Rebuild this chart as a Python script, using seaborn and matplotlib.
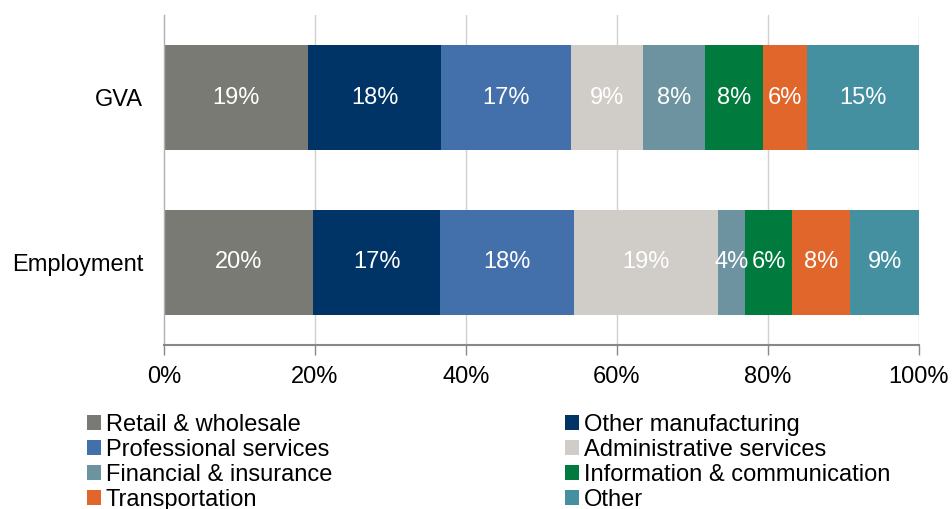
import matplotlib
matplotlib.use("Agg")
import matplotlib.pyplot as plt
import seaborn as sns
import pandas as pd
import numpy as np
from matplotlib.patches import Patch

categories = ["GVA", "Employment"]
sectors = ["Retail & wholesale", "Other manufacturing", "Professional services",
           "Administrative services", "Financial & insurance",
           "Information & communication", "Transportation", "Other"]
gva = [19.1, 17.6, 17.2, 9.5, 8.2, 7.7, 5.8, 14.9]
employment = [19.7, 16.9, 17.7, 19.1, 3.6, 6.2, 7.7, 9.1]
labels_gva = ["19%", "18%", "17%", "9%", "8%", "8%", "6%", "15%"]
labels_emp = ["20%", "17%", "18%", "19%", "4%", "6%", "8%", "9%"]
colors = ["#7a7a74", "#003366", "#436fab", "#d0cdc8", "#6d92a0",
          "#007a3d", "#e0662b", "#4490a0"]
xticks = [0, 20, 40, 60, 80, 100]
xticklabels = ["0%", "20%", "40%", "60%", "80%", "100%"]

FS = 17

sns.set_theme(style="white")
plt.rcParams["font.family"] = ["Liberation Sans", "DejaVu Sans"]
plt.rcParams["text.color"] = "black"

fig = plt.figure(figsize=(9.52, 5.09), dpi=100)
ax = fig.add_axes([164/952, 1 - 345/509, 755/952, 330/509])

vals = np.array([gva, employment])
cum = np.cumsum(vals, axis=1)
df_rows = []
for j, s in enumerate(sectors):
    for i, c in enumerate(categories):
        df_rows.append({"category": c, "sector": s, "end": cum[i, j], "value": vals[i, j]})
df = pd.DataFrame(df_rows)

ax.set_axisbelow(True)
for x in xticks[1:]:
    ax.axvline(x, color="#d0d0d0", lw=1, zorder=0)

# draw from right-most cumulative to left so each segment shows
for j in reversed(range(len(sectors))):
    sub = df[df["sector"] == sectors[j]]
    sns.barplot(data=sub, x="end", y="category", order=categories, color=colors[j],
                width=0.64, ax=ax, orient="h", saturation=1, edgecolor="none",
                linewidth=0, zorder=2)

all_labels = [labels_gva, labels_emp]
for i in range(len(categories)):
    for j in range(len(sectors)):
        center = cum[i, j] - vals[i, j] / 2
        ax.text(center, i, all_labels[i][j], ha="center", va="center",
                color="white", fontsize=FS, zorder=3)

ax.set_xlim(0, 100)
ax.set_ylim(1.5, -0.5)
ax.set_xticks(xticks)
ax.set_xticklabels(xticklabels, fontsize=FS, color="black")
ax.tick_params(axis="y", labelsize=FS, colors="black", length=0, pad=15)
ax.tick_params(axis="x", length=7, width=1, color="#888888", bottom=True, pad=8)
ax.set_xlabel("")
ax.set_ylabel("")
for sp in ["top", "right"]:
    ax.spines[sp].set_visible(False)
ax.spines["left"].set_color("#b0b0b0")
ax.spines["left"].set_linewidth(1)
ax.spines["bottom"].set_color("#888888")
ax.spines["bottom"].set_linewidth(1.5)

order = [0, 2, 4, 6, 1, 3, 5, 7]
handles = [Patch(facecolor=colors[k], edgecolor="none") for k in order]
labs = [sectors[k] for k in order]
fig.legend(handles, labs, ncol=2, loc="upper left", bbox_to_anchor=(87/952, 1 - 414/509),
           frameon=False, fontsize=FS, handlelength=0.6, handleheight=0.6,
           handletextpad=0.2, labelspacing=0.13, columnspacing=9.85, borderpad=0,
           borderaxespad=0, labelcolor="black")

fig.savefig("out.png", dpi=100)
